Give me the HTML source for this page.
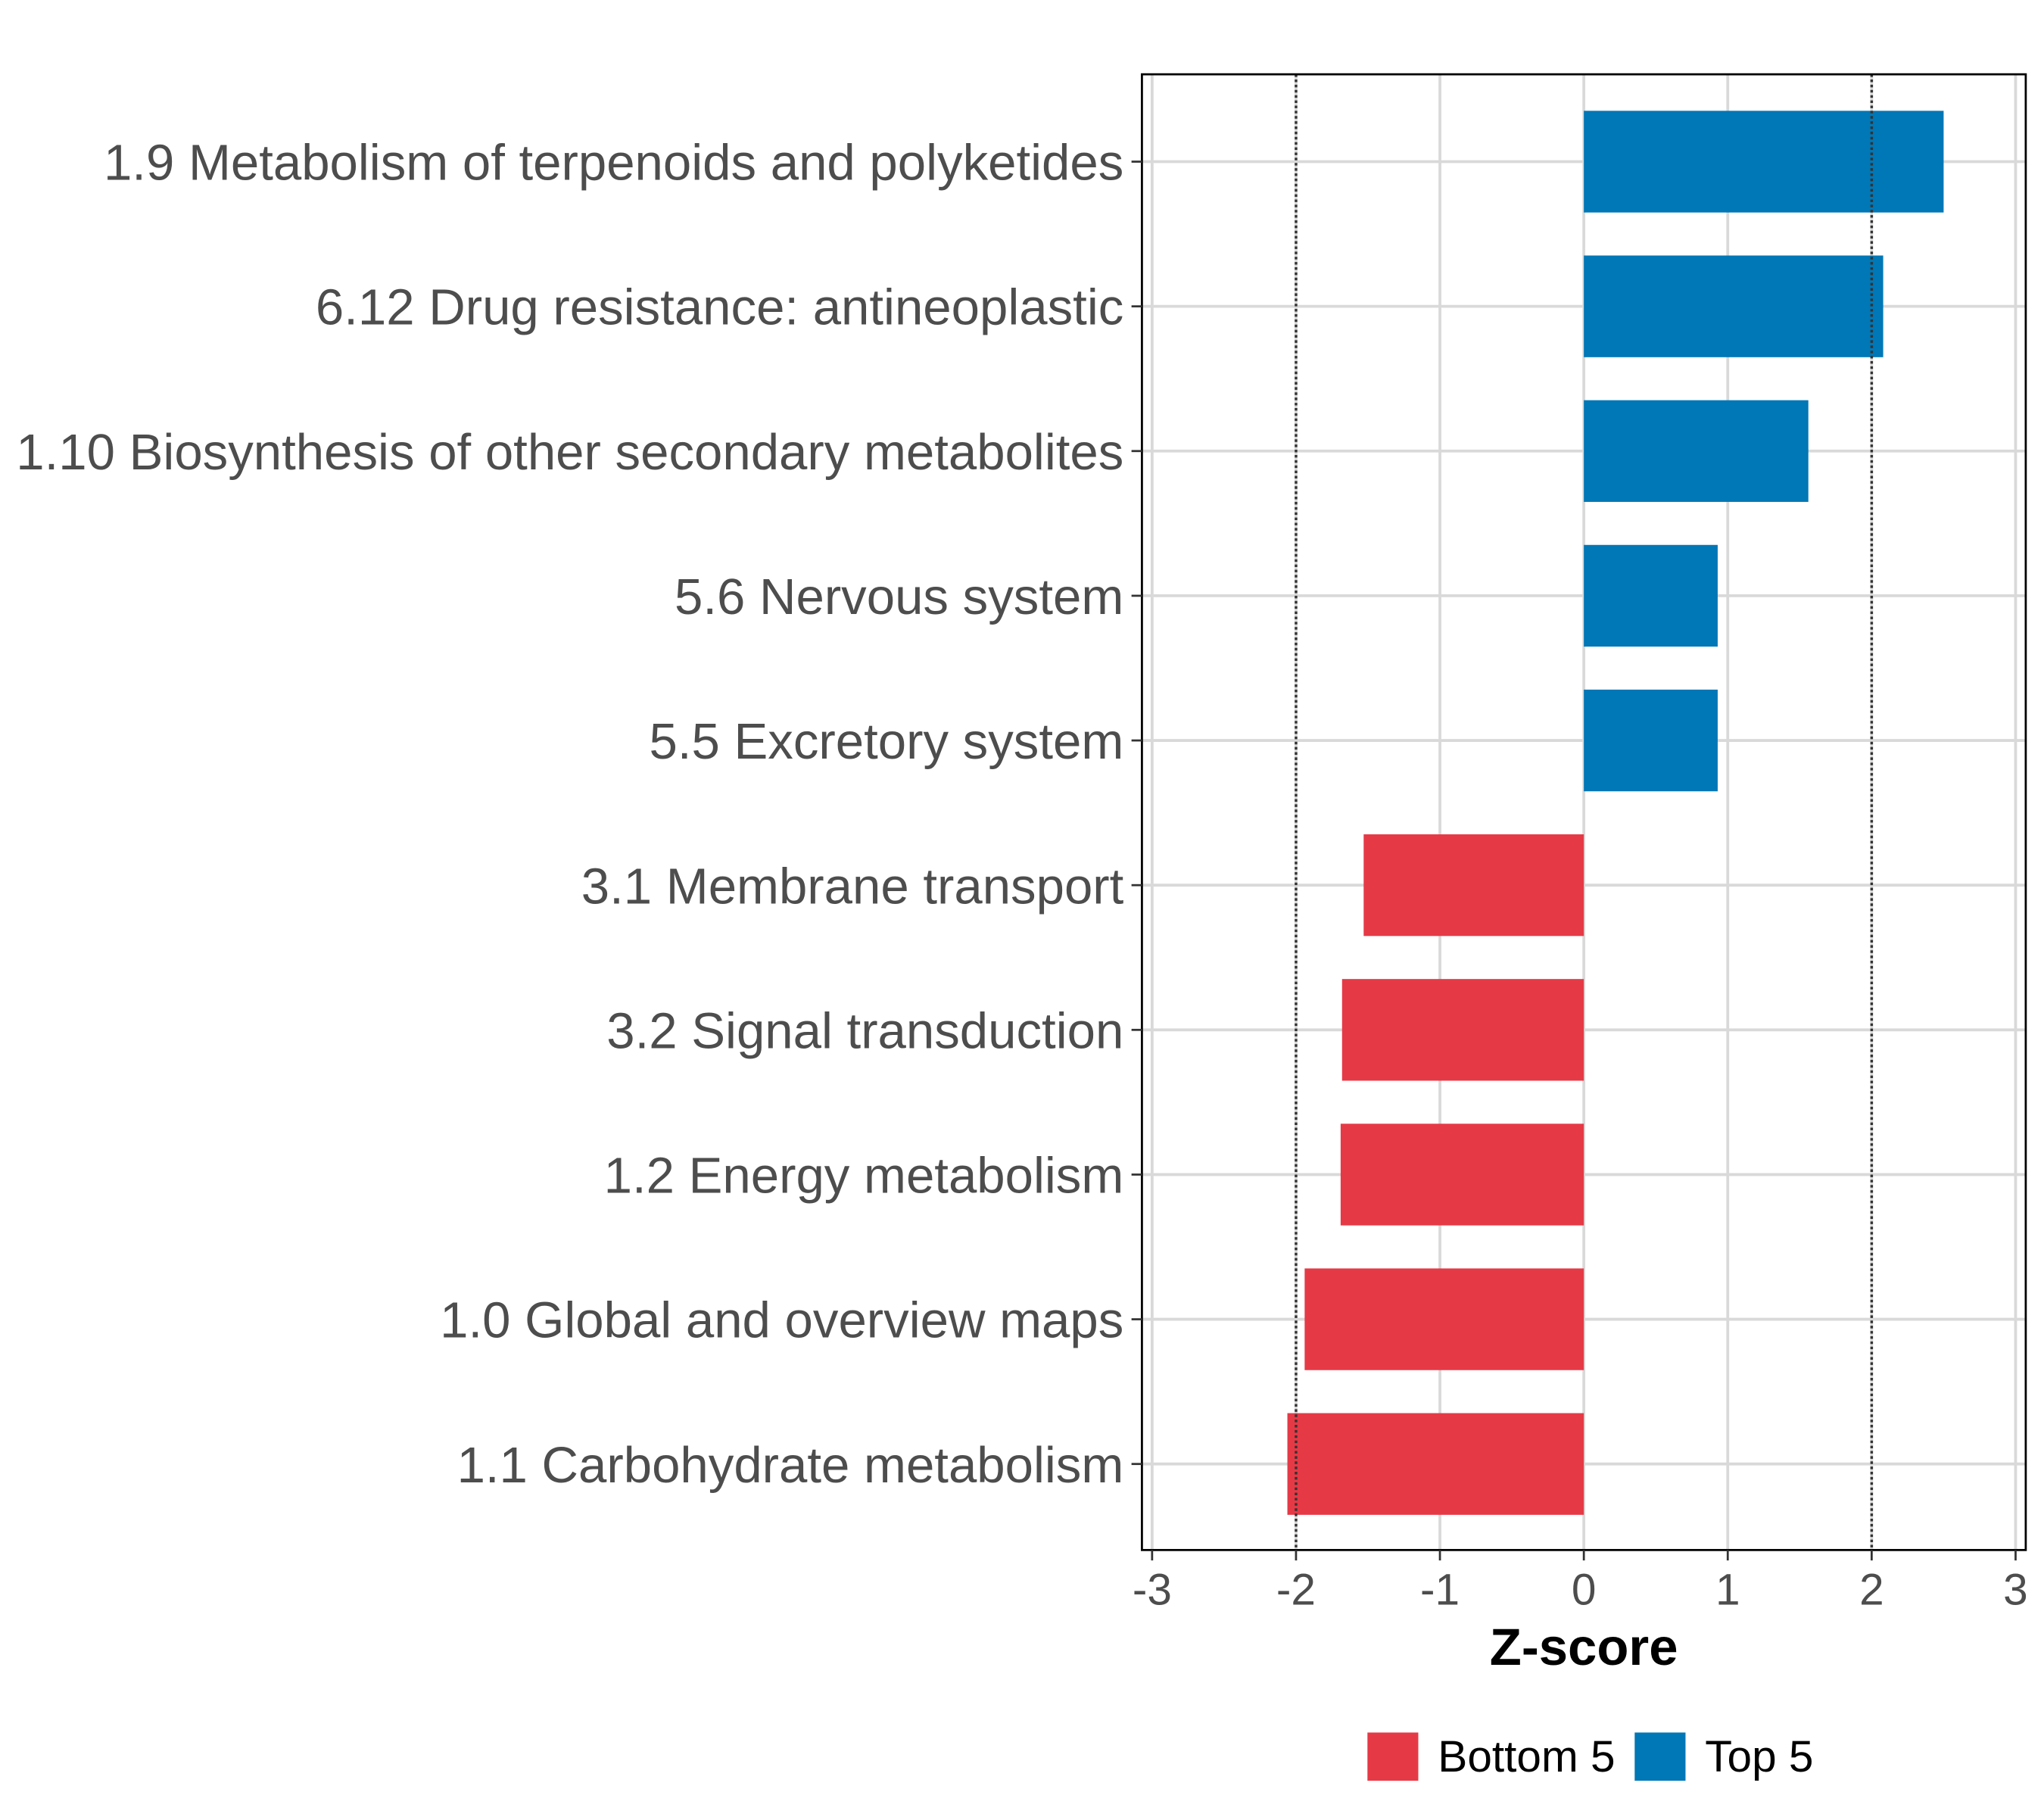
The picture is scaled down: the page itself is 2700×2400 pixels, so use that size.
<!DOCTYPE html>
<html><head><meta charset="utf-8"><style>
html,body{margin:0;padding:0;background:#fff;}
svg{display:block;font-family:"Liberation Sans",Arial,sans-serif;}
</style></head><body>
<svg id="chart" width="2700" height="2400" viewBox="0 0 1568 1393.8" preserveAspectRatio="none" xmlns="http://www.w3.org/2000/svg">
<rect x="876" y="57" width="678" height="1132" fill="#fff"/>
<g id="grid"></g>
<g id="bars"></g>
<g id="refs"></g>
<rect x="876" y="57" width="678" height="1132" fill="none" stroke="#000" stroke-width="1.6"/>
<g id="yaxis"></g>
<g id="xaxis"></g>
<text x="1215" y="1277" text-anchor="middle" font-size="40" font-weight="bold" fill="#000">Z-score</text>
<g>
<rect x="1049" y="1329" width="39" height="37" fill="#E63946"/>
<text x="1103" y="1359" font-size="34" fill="#000">Bottom 5</text>
<rect x="1254" y="1329" width="39" height="37" fill="#0077B6"/>
<text x="1308" y="1359" font-size="34" fill="#000">Top 5</text>
</g>
</svg>
<script>
const categories = ["1.9 Metabolism of terpenoids and polyketides","6.12 Drug resistance: antineoplastic","1.10 Biosynthesis of other secondary metabolites","5.6 Nervous system","5.5 Excretory system","3.1 Membrane transport","3.2 Signal transduction","1.2 Energy metabolism","1.0 Global and overview maps","1.1 Carbohydrate metabolism"];
const values = [2.50, 2.08, 1.56, 0.93, 0.93, -1.53, -1.68, -1.69, -1.94, -2.06];
const groups = ["Top 5","Top 5","Top 5","Top 5","Top 5","Bottom 5","Bottom 5","Bottom 5","Bottom 5","Bottom 5"];
const xTicks = [-3,-2,-1,0,1,2,3];
const refLines = [-2, 2];

const NS = "http://www.w3.org/2000/svg";
const x = v => 1215 + v * 110.4;
const y = i => 124 + i * 111;
const barH = 78;
const colors = {"Top 5":"#0077B6","Bottom 5":"#E63946"};
function mk(tag, attrs, parent){const e=document.createElementNS(NS,tag);for(const k in attrs)e.setAttribute(k,attrs[k]);parent.appendChild(e);return e;}
const grid=document.getElementById('grid'), bars=document.getElementById('bars'), refs=document.getElementById('refs'), ya=document.getElementById('yaxis'), xa=document.getElementById('xaxis');
xTicks.forEach(t=>{
  const l=mk('line',{x1:x(t),x2:x(t),y1:57,y2:1189,stroke:'#d9d9d9','stroke-width':2.2},grid);
  
  
  const tk=mk('line',{x1:x(t),x2:x(t),y1:1189,y2:1197,stroke:'#333','stroke-width':1.6},xa);
  
  
  const tx=mk('text',{x:x(t),y:1231,'text-anchor':'middle','font-size':34,fill:'#4d4d4d'},xa);
  tx.textContent=String(t);
  
  
});
categories.forEach((c,i)=>{
  const l=mk('line',{x1:876,x2:1554,y1:y(i),y2:y(i),stroke:'#d9d9d9','stroke-width':2.2},grid);
  
  
  const v=values[i];
  const r=mk('rect',{x:Math.min(x(0),x(v)),y:y(i)-barH/2,width:Math.abs(x(v)-x(0)),height:barH,fill:colors[groups[i]]},bars);
  
  
  const tk=mk('line',{x1:868,x2:876,y1:y(i),y2:y(i),stroke:'#333','stroke-width':1.6},ya);
  
  
  const tx=mk('text',{x:862,y:y(i)+14,'text-anchor':'end','font-size':39,fill:'#4d4d4d'},ya);
  tx.textContent=c;
  
  
});
refLines.forEach(v=>{
  const l=mk('line',{x1:x(v),x2:x(v),y1:57,y2:1189,stroke:'#333','stroke-width':2,'stroke-dasharray':'2,2'},refs);
  
  
});
</script>
</body></html>
